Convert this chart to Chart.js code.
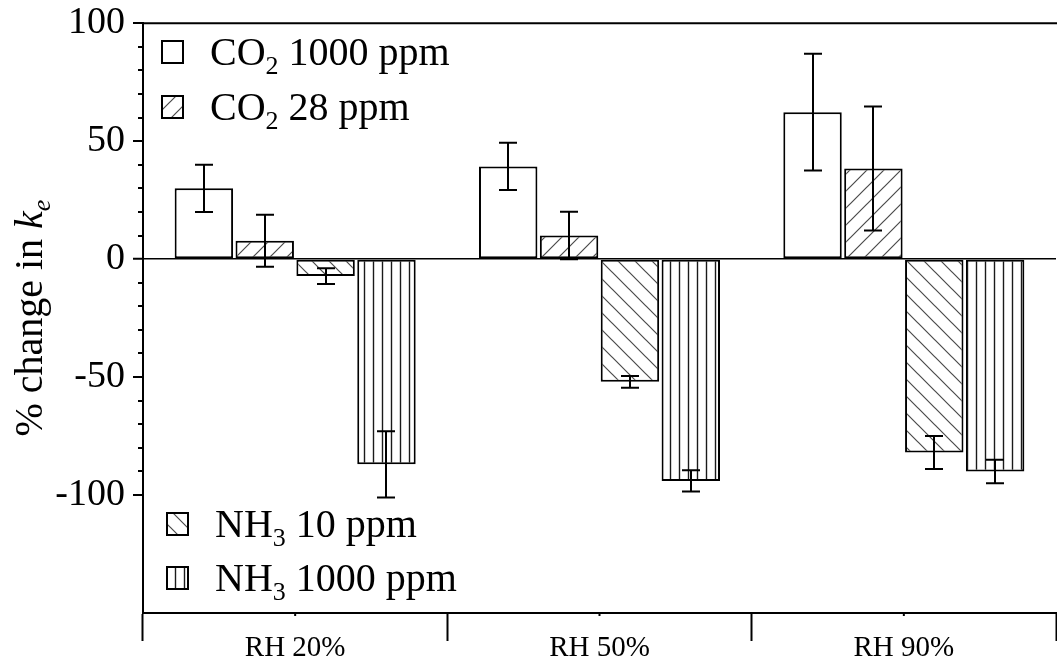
<!DOCTYPE html>
<html>
<head>
<meta charset="utf-8">
<script src="https://cdn.jsdelivr.net/npm/chart.js@4.4.1/dist/chart.umd.min.js"></script>
<style>
html,body{margin:0;padding:0;background:#fff;}
#wrap{position:relative;width:1057px;height:669px;}
</style>
</head>
<body>
<div id="wrap"><canvas id="c" width="1057" height="669"></canvas></div>
<script>
// ---- data ----
const categories = ['RH 20%', 'RH 50%', 'RH 90%'];
const seriesNames = ['CO\u2082 1000 ppm', 'CO\u2082 28 ppm', 'NH\u2083 10 ppm', 'NH\u2083 1000 ppm'];
const seriesBase = ['CO', 'CO', 'NH', 'NH'];
const seriesSub = ['2', '2', '3', '3'];
const seriesRest = [' 1000 ppm', ' 28 ppm', ' 10 ppm', ' 1000 ppm'];
const co2_1000 = [30, 39.3, 62.3];
const co2_1000_err = [10, 10, 24.7];
const co2_28 = [7.8, 10, 38.4];
const co2_28_err = [11, 10.1, 26.3];
const nh3_10 = [-7.2, -52, -82];
const nh3_10_err = [3.3, 2.5, 7];
const nh3_1000 = [-87, -94, -90];
const nh3_1000_err = [14, 4.5, 5];
const yTickLabels = [100, 50, 0, -50, -100];
const yAxisTitle = ['% change in ', 'k', 'e'];

const FONT = "'Liberation Serif', 'Times New Roman', serif";
const canvas = document.getElementById('c');
const mainCtx = canvas.getContext('2d');

function hatch(kind) {
  const s = kind === 'v' ? 9 : 17;
  const t = document.createElement('canvas');
  t.width = s; t.height = s;
  const g = t.getContext('2d');
  g.fillStyle = '#fff';
  g.fillRect(0, 0, s, s);
  g.strokeStyle = kind === 'v' ? '#1a1a1a' : '#4a4a4a';
  g.lineWidth = kind === 'v' ? 1.4 : 1.2;
  g.beginPath();
  if (kind === 'v') {
    g.moveTo(4.5, 0); g.lineTo(4.5, s);
  } else if (kind === '/') {
    g.moveTo(-2, s + 2); g.lineTo(s + 2, -2);
    g.moveTo(-2, 2); g.lineTo(2, -2);
    g.moveTo(s - 2, s + 2); g.lineTo(s + 2, s - 2);
  } else {
    g.moveTo(-2, -2); g.lineTo(s + 2, s + 2);
    g.moveTo(s - 2, -2); g.lineTo(s + 2, 2);
    g.moveTo(-2, s - 2); g.lineTo(2, s + 2);
  }
  g.stroke();
  return mainCtx.createPattern(t, 'repeat');
}

const fills = ['#ffffff', hatch('/'), hatch('\\'), hatch('v')];
const values = [co2_1000, co2_28, nh3_10, nh3_1000];
const errors = [co2_1000_err, co2_28_err, nh3_10_err, nh3_1000_err];

const datasets = values.map((v, i) => ({
  label: seriesNames[i],
  data: v,
  errors: errors[i],
  backgroundColor: fills[i],
  borderColor: '#000',
  borderWidth: 2,
  borderSkipped: false,
  inflateAmount: 0,
  categoryPercentage: 0.8,
  barPercentage: 0.96
}));

const isMajor = v => yTickLabels.includes(Math.round(v));

const extras = {
  id: 'extras',
  beforeDatasetsDraw(chart) {
    const ctx = chart.ctx;
    const ys = chart.scales.y;
    const a = chart.chartArea;
    ctx.save();
    ctx.strokeStyle = '#000';
    ctx.lineWidth = 2;
    // minor y ticks
    ys.ticks.forEach(t => {
      const v = Math.round(t.value);
      if (v > -100 && v < 100 && !isMajor(v)) {
        const p = Math.round(ys.getPixelForValue(v));
        ctx.beginPath();
        ctx.moveTo(a.left - 5, p);
        ctx.lineTo(a.left, p);
        ctx.stroke();
      }
    });
    // minor x ticks at category centres
    const xs = chart.scales.x;
    categories.forEach((c, i) => {
      const p = xs.getPixelForValue(i);
      ctx.beginPath();
      ctx.moveTo(p, a.bottom);
      ctx.lineTo(p, a.bottom + 3);
      ctx.stroke();
    });
    // top frame
    ctx.beginPath();
    ctx.moveTo(a.left - 1, a.top);
    ctx.lineTo(a.right + 1, a.top);
    ctx.stroke();
    ctx.restore();
  },
  afterDatasetsDraw(chart) {
    const ctx = chart.ctx;
    const ys = chart.scales.y;
    ctx.save();
    ctx.strokeStyle = '#000';
    ctx.lineWidth = 2;
    chart.data.datasets.forEach((ds, i) => {
      const meta = chart.getDatasetMeta(i);
      meta.data.forEach((el, j) => {
        const v = ds.data[j], e = ds.errors[j];
        const x = Math.round(el.x);
        const y1 = ys.getPixelForValue(v + e);
        const y2 = ys.getPixelForValue(v - e);
        ctx.beginPath();
        ctx.moveTo(x, y1); ctx.lineTo(x, y2);
        ctx.moveTo(x - 9, y1); ctx.lineTo(x + 9, y1);
        ctx.moveTo(x - 9, y2); ctx.lineTo(x + 9, y2);
        ctx.stroke();
      });
    });
    ctx.restore();
  },
  afterDraw(chart) {
    const ctx = chart.ctx;
    const a = chart.chartArea;
    ctx.save();
    // legends
    const spots = [
      { x: 162, y: 41 }, { x: 162, y: 96 },
      { x: 167, y: 513 }, { x: 167, y: 567 }
    ];
    chart.data.datasets.forEach((ds, i) => {
      const s = spots[i];
      ctx.fillStyle = ds.backgroundColor;
      ctx.fillRect(s.x, s.y, 21, 22);
      ctx.strokeStyle = '#000';
      ctx.lineWidth = 2;
      ctx.strokeRect(s.x, s.y, 21, 22);
      ctx.fillStyle = '#000';
      ctx.textBaseline = 'alphabetic';
      ctx.textAlign = 'left';
      let tx = s.x + 48;
      const base = s.y + 24;
      ctx.font = '40px ' + FONT;
      ctx.fillText(seriesBase[i], tx, base);
      tx += ctx.measureText(seriesBase[i]).width;
      ctx.font = '26px ' + FONT;
      ctx.fillText(seriesSub[i], tx, base + 9);
      tx += ctx.measureText(seriesSub[i]).width;
      ctx.font = '40px ' + FONT;
      ctx.fillText(seriesRest[i], tx, base);
    });
    // y axis title
    ctx.translate(42, (a.top + a.bottom) / 2);
    ctx.rotate(-Math.PI / 2);
    ctx.font = '40px ' + FONT;
    const w0 = ctx.measureText(yAxisTitle[0]).width;
    ctx.font = 'italic 40px ' + FONT;
    const w1 = ctx.measureText(yAxisTitle[1]).width;
    ctx.font = 'italic 26px ' + FONT;
    const w2 = ctx.measureText(yAxisTitle[2]).width;
    let tx = -(w0 + w1 + w2) / 2;
    ctx.fillStyle = '#000';
    ctx.textBaseline = 'alphabetic';
    ctx.textAlign = 'left';
    ctx.font = '40px ' + FONT;
    ctx.fillText(yAxisTitle[0], tx, 0);
    tx += w0;
    ctx.font = 'italic 40px ' + FONT;
    ctx.fillText(yAxisTitle[1], tx, 0);
    tx += w1;
    ctx.font = 'italic 26px ' + FONT;
    ctx.fillText(yAxisTitle[2], tx, 8);
    ctx.restore();
  }
};

new Chart(canvas, {
  type: 'bar',
  data: { labels: categories, datasets },
  plugins: [extras],
  options: {
    responsive: false,
    animation: false,
    devicePixelRatio: 1,
    layout: { padding: { top: 21, right: 1, left: 0, bottom: 0 } },
    plugins: { legend: { display: false }, tooltip: { enabled: false } },
    scales: {
      x: {
        type: 'category',
        offset: true,
        grid: {
          offset: true, drawOnChartArea: false, drawTicks: true,
          tickLength: 28, tickWidth: 2, tickColor: '#000'
        },
        border: { display: true, color: '#000', width: 2 },
        ticks: { font: { family: FONT, size: 29 }, color: '#000', padding: -10, maxRotation: 0 },
        afterFit(s) { s.height = 56; }
      },
      y: {
        min: -150, max: 100,
        grid: {
          drawOnChartArea: true,
          color: c => (c.tick && Math.round(c.tick.value) === 0) ? '#000' : 'rgba(0,0,0,0)',
          lineWidth: c => (c.tick && Math.round(c.tick.value) === 0) ? 1.5 : 0,
          drawTicks: true, tickLength: 10, tickWidth: 2,
          tickColor: c => (c.tick && isMajor(c.tick.value)) ? '#000' : 'rgba(0,0,0,0)'
        },
        border: { display: true, color: '#000', width: 2 },
        ticks: {
          stepSize: 10, autoSkip: false,
          callback: v => isMajor(v) ? String(Math.round(v)) : '',
          font: { family: FONT, size: 38, lineHeight: 0.8 }, color: '#000', padding: 8
        },
        afterFit(s) { s.width = 143; }
      }
    }
  }
});
</script>
</body>
</html>
